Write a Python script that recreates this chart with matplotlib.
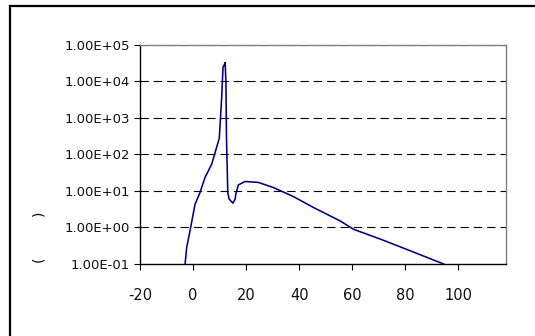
import matplotlib
matplotlib.use("Agg")
import matplotlib.pyplot as plt
from matplotlib.lines import Line2D

# data
x_vals = [-3.0, -2.4, -0.9, 0.75, 2.6, 4.5, 7.05, 9.9, 10.8, 11.3, 11.8, 12.1,
          12.4, 12.6, 13.1, 13.6, 15.0, 15.9, 16.1, 17.1, 19.6, 24.6, 30.3,
          37.8, 45.4, 55.5, 60.5, 70.6, 80.6, 94.5]
y_vals = [0.1, 0.28, 1.0, 4.3, 8.9, 23, 54, 275, 3600, 24000, 28000, 32000,
          9000, 300, 9, 6, 4.6, 6, 8.1, 14.5, 18, 17, 12.3,
          7.0, 3.5, 1.5, 0.89, 0.48, 0.25, 0.1]
y_ticks = [1e-1, 1e0, 1e1, 1e2, 1e3, 1e4, 1e5]
y_tick_labels = ["1.00E-01", "1.00E+00", "1.00E+01", "1.00E+02",
                 "1.00E+03", "1.00E+04", "1.00E+05"]
x_ticks = [-20, 0, 20, 40, 60, 80, 100]
x_tick_labels = ["-20", "0", "20", "40", "60", "80", "100"]

W, H = 535, 336
fig = plt.figure(figsize=(W / 100, H / 100), dpi=100)
fig.patch.set_facecolor("white")

ax = fig.add_axes([140 / W, 1 - 264 / H, (506 - 140) / W, (264 - 44.5) / H])
ax.plot(x_vals, y_vals, color="#000080", lw=1.15, zorder=3)
ax.set_yscale("log")
ax.set_ylim(1e-1, 1e5)
ax.set_xlim(-20, 118)

ax.set_yticks(y_ticks)
ax.set_yticklabels(y_tick_labels)
ax.minorticks_off()
ax.set_xticks(x_ticks)
ax.set_xticklabels(x_tick_labels)

for v in y_ticks[1:]:
    ax.axhline(v, color="black", lw=0.8, ls=(0, (7.5, 4.5)), zorder=1)

ax.tick_params(axis="y", direction="out", length=4, width=0.8, pad=3.5,
               labelsize=9.5, colors="black")
ax.tick_params(axis="x", direction="out", length=4, width=0.8, pad=13.5,
               labelsize=10.5, colors="black")
for lab in ax.get_xticklabels() + ax.get_yticklabels():
    lab.set_fontfamily("DejaVu Sans")
    lab.set_color("#111111")

ax.spines["left"].set_color("black")
ax.spines["bottom"].set_color("black")
ax.spines["top"].set_color("#808080")
ax.spines["right"].set_color("#808080")
for s in ax.spines.values():
    s.set_linewidth(1.0)

# y-axis label remnants (rotated parentheses)
fig.text(38 / W, 1 - 259 / H, "(", rotation=90, ha="center", va="center",
         fontsize=10, family="DejaVu Sans")
fig.text(38 / W, 1 - 213 / H, ")", rotation=90, ha="center", va="center",
         fontsize=10, family="DejaVu Sans")

# outer chart frame (only top and left edges visible)
fig.add_artist(Line2D([10 / W, 1.0], [1 - 6 / H, 1 - 6 / H],
                      transform=fig.transFigure, color="black", lw=1.6))
fig.add_artist(Line2D([10 / W, 10 / W], [0.0, 1 - 6 / H],
                      transform=fig.transFigure, color="black", lw=1.6))

fig.savefig("out.png", dpi=100)
